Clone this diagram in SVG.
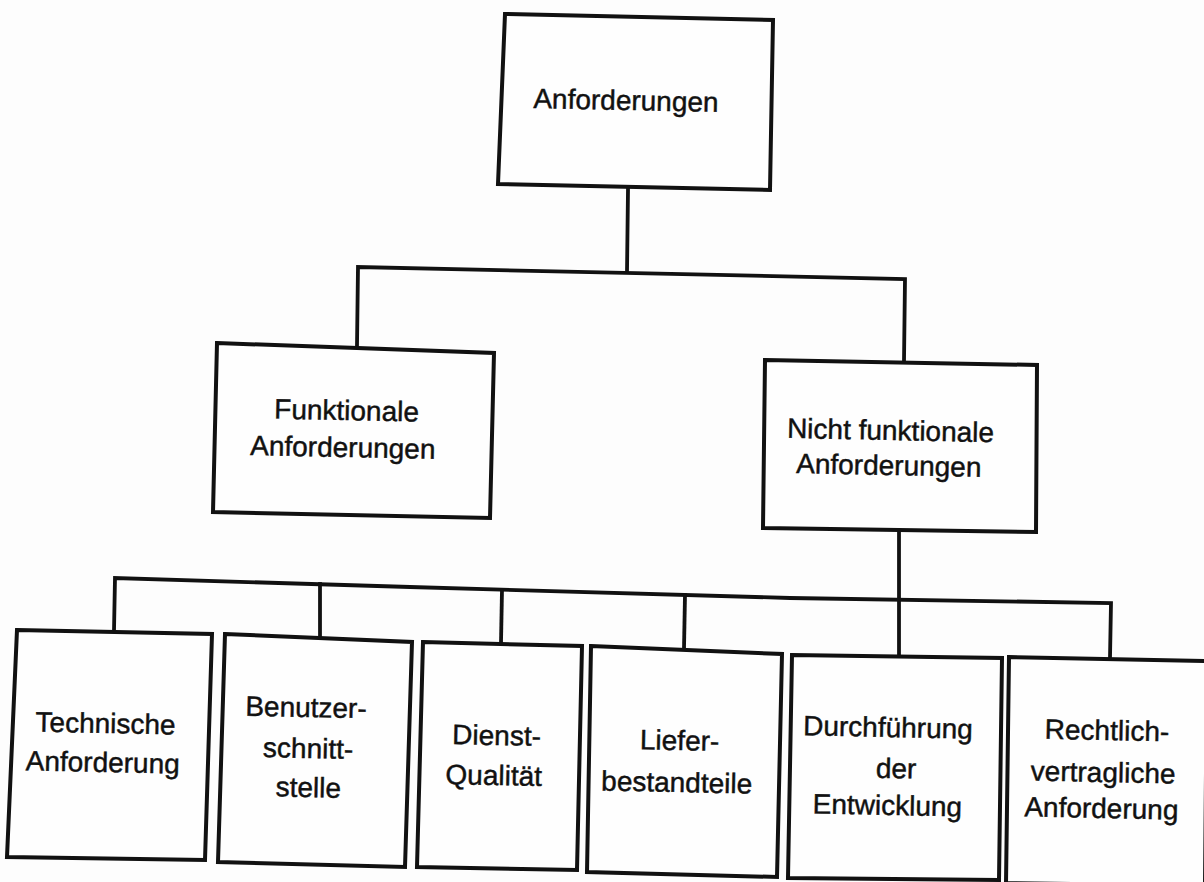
<svg xmlns="http://www.w3.org/2000/svg" width="1204" height="882" viewBox="0 0 1204 882">
  <style>
    .box { fill: #fefefe; stroke: #111; stroke-width: 4; stroke-linejoin: miter; }
    .wire { fill: none; stroke: #111; stroke-width: 3.8; stroke-linecap: square; }
    text { font-family: "Liberation Sans", Arial, sans-serif; font-size: 28px; fill: #111; stroke: #111; stroke-width: 0.45; text-anchor: middle; }
  </style>
  <rect width="1204" height="882" fill="#fdfdfd"/>

  <!-- connectors -->
  <g id="connectors">
    <path class="wire" d="M628,190 L627,272"/>
    <path class="wire" d="M357,346 L358,267 L905,279 L904,361"/>
    <path class="wire" d="M899,532 L899,656"/>
    <path class="wire" d="M114,631 L115,578 L410,587 L790,598 L1111,603 L1110,658"/>
    <path class="wire" d="M320,584 L320,637"/>
    <path class="wire" d="M502,590 L501,643"/>
    <path class="wire" d="M685,595 L684,649"/>
  </g>

  <!-- root -->
  <g id="anforderungen">
    <polygon class="box" points="505,14 773,20 770,190 498,184"/>
    <text x="626" y="110" transform="rotate(1.2 626 100)">Anforderungen</text>
  </g>

  <!-- second level -->
  <g id="funktionale">
    <polygon class="box" points="217,343 494,353 490,518 213,512"/>
    <text transform="rotate(1.2 344 440)"><tspan x="346" y="420">Funktionale</tspan><tspan x="343" y="457">Anforderungen</tspan></text>
  </g>
  <g id="nicht-funktionale">
    <polygon class="box" points="765,360 1037,365 1036,532 763,528"/>
    <text transform="rotate(1.2 890 458)"><tspan x="890" y="440">Nicht funktionale</tspan><tspan x="889" y="475">Anforderungen</tspan></text>
  </g>

  <!-- third level -->
  <g id="technische">
    <polygon class="box" points="17,630 212,634 205,860 7,857"/>
    <text transform="rotate(1.2 104 750)"><tspan x="105" y="733">Technische</tspan><tspan x="103" y="772">Anforderung</tspan></text>
  </g>
  <g id="benutzerschnittstelle">
    <polygon class="box" points="225,634 412,642 405,867 218,862"/>
    <text transform="rotate(1.2 307 757)"><tspan x="305" y="717">Benutzer-</tspan><tspan x="308" y="758">schnitt-</tspan><tspan x="309" y="797">stelle</tspan></text>
  </g>
  <g id="dienstqualitaet">
    <polygon class="box" points="423,642 582,646 577,870 417,867"/>
    <text transform="rotate(1.2 495 765)"><tspan x="496" y="745">Dienst-</tspan><tspan x="494" y="785">Qualität</tspan></text>
  </g>
  <g id="lieferbestandteile">
    <polygon class="box" points="591,646 782,654 777,877 587,872"/>
    <text transform="rotate(1.2 678 771)"><tspan x="679" y="750">Liefer-</tspan><tspan x="677" y="792">bestandteile</tspan></text>
  </g>
  <g id="durchfuehrung">
    <polygon class="box" points="792,655 1002,658 999,880 788,878"/>
    <text transform="rotate(1.2 890 776)"><tspan x="887" y="737">Durchführung</tspan><tspan x="896" y="778">der</tspan><tspan x="888" y="815">Entwicklung</tspan></text>
  </g>
  <g id="rechtlich-vertraglich">
    <polygon class="box" points="1009,657 1207,661 1205,886 1006,883"/>
    <text transform="rotate(1.2 1104 779)"><tspan x="1106" y="740">Rechtlich-</tspan><tspan x="1103" y="782">vertragliche</tspan><tspan x="1102" y="818">Anforderung</tspan></text>
  </g>
</svg>
